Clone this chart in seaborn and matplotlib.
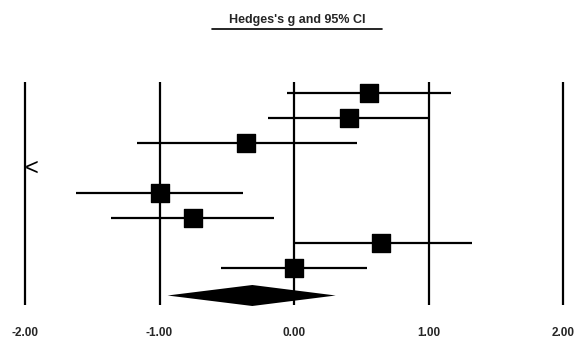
import matplotlib
matplotlib.use("Agg")
import matplotlib.pyplot as plt
import seaborn as sns
import numpy as np
import pandas as pd
from matplotlib.lines import Line2D

# study effects (Hedges's g) with 95% CI, one row per study
effect = [0.56, 0.41, -0.36, np.nan, -1.00, -0.75, 0.65, 0.00]
lower = [-0.05, -0.19, -1.17, np.nan, -1.62, -1.36, -0.01, -0.54]
upper = [1.17, 1.00, 0.47, np.nan, -0.38, -0.15, 1.32, 0.54]
off_left = [False, False, False, True, False, False, False, False]

# summary effect
summary = -0.31
summary_lo = -0.94
summary_hi = 0.31

ticks = [-2, -1, 0, 1, 2]
tick_labels = ["-2.00", "-1.00", "0.00", "1.00", "2.00"]

rows = np.arange(1, len(effect) + 1)
df = pd.DataFrame({"row": rows, "g": effect, "lo": lower, "hi": upper})

sns.set_style("white")
plt.rcParams["font.family"] = ["Liberation Sans", "DejaVu Sans"]

fig = plt.figure(figsize=(5.83, 3.41), dpi=100)
ax = fig.add_axes([0, 0, 1, 1])
ax.set_xlim(-294 / 134.5, (583 - 294) / 134.5)
ax.set_ylim(1 + 248 / 25, 1 - 93 / 25)
ax.axis("off")

# reference lines
ax.vlines(ticks, 0.56, 9.48, color="black", lw=1.6)

# confidence intervals
ok = df.dropna()
ax.hlines(ok["row"], ok["lo"], ok["hi"], color="black", lw=1.6)

# point estimates
sns.scatterplot(data=ok, x="g", y="row", marker="s", s=150, color="black",
                edgecolor="black", ax=ax, legend=False, zorder=3)

# study beyond the left limit
for r, flag in zip(rows, off_left):
    if flag:
        ax.text(-2.0, r + 0.05, "<", ha="left", va="center", fontsize=17,
                fontweight="light", color="black")

# summary diamond
yd = 9.1
ax.fill([summary_lo, summary, summary_hi, summary],
        [yd, yd - 0.42, yd, yd + 0.42], color="black", lw=0)

# tick labels
for t, lab in zip(ticks, tick_labels):
    ax.text(t, 1 + (333 - 93) / 25, lab, ha="center", va="center",
            fontsize=8.5, fontweight="bold")

# title with underline
fig.text(297 / 583, 1 - 20 / 341, "Hedges's g and 95% CI", ha="center", va="center",
         fontsize=9, fontweight="bold")
fig.add_artist(Line2D([212 / 583, 382 / 583], [1 - 28.5 / 341, 1 - 28.5 / 341],
                      color="black", lw=1.2, transform=fig.transFigure))

fig.savefig("out.png", dpi=100)
